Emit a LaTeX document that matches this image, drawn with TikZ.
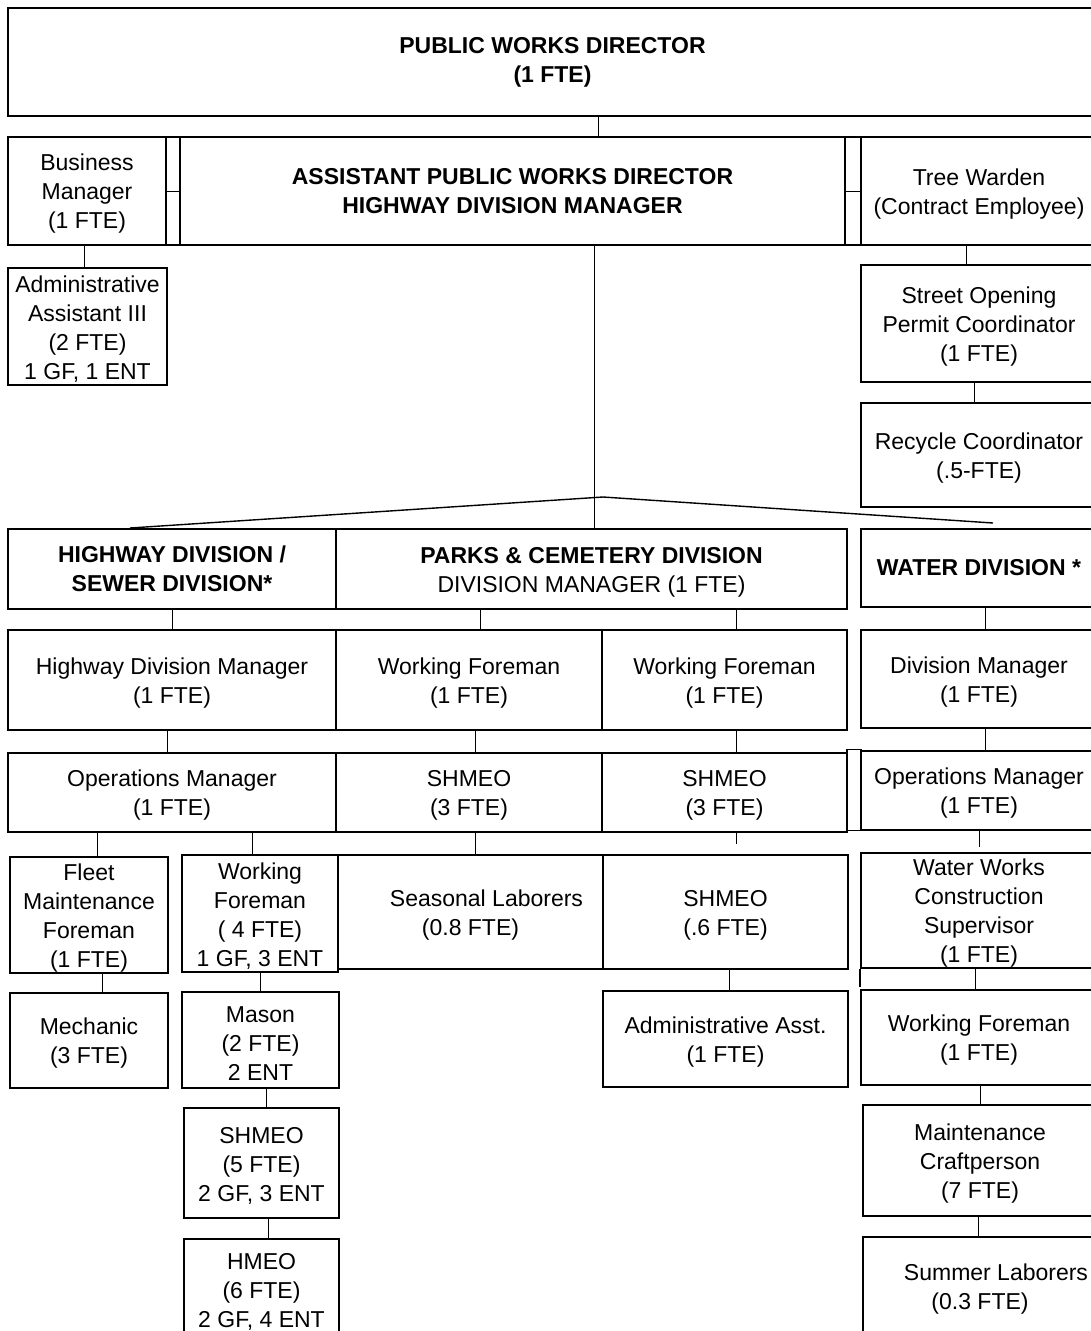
\documentclass[tikz,border=0pt]{standalone}
\usepackage{fontspec}
\setmainfont{Liberation Sans}
% raises the top of a first line so the lines sit a little lower in their box
\newcommand\tstrut{\rule{0pt}{22pt}}
\begin{document}
\begin{tikzpicture}[x=1pt,y=-1pt,
  basebox/.style={draw, line width=1.6pt, inner sep=0pt, align=center},
  box/.style={basebox, font=\fontsize{23}{29}\selectfont},
  boldbox/.style={basebox, font=\fontsize{23}{29}\selectfont\bfseries},
  bar/.style={draw, line width=1.6pt, inner sep=0pt, minimum width=14pt},
  link/.style={line width=1pt},
  roof/.style={line width=1.4pt}]
\useasboundingbox (0,0) rectangle (1091,1331);
\fill[white] (0,0) rectangle (1091,1331);
\clip (0,0) rectangle (1091,1331);

% ---- top level
\node[boldbox, minimum width=1089, minimum height=108] (top) at (552.5,62)
  {PUBLIC WORKS DIRECTOR\\(1 FTE)};

% ---- second row
\node[box, minimum width=158, minimum height=108] (bm) at (87,191)
  {\tstrut Business\\Manager\\(1 FTE)};
\node[bar, minimum height=108] (barL) at (173,191) {};
\node[boldbox, minimum width=665, minimum height=108] (asst) at (512.5,191)
  {ASSISTANT PUBLIC WORKS DIRECTOR\\HIGHWAY DIVISION MANAGER};
\node[bar, minimum width=16, minimum height=108] (barR) at (853,191) {};
\node[box, minimum width=236, minimum height=108] (tw) at (979,191)
  {\tstrut Tree Warden\\(Contract Employee)};

% ---- staff boxes
\node[box, minimum width=159, minimum height=117] (aa3) at (87.5,326.5)
  {\tstrut Administrative\\Assistant III\\(2 FTE)\\1 GF, 1 ENT};
\node[box, minimum width=236, minimum height=117] (sop) at (979,323.5)
  {\tstrut Street Opening\\Permit Coordinator\\(1 FTE)};
\node[box, minimum width=236, minimum height=104] (rc) at (979,455)
  {\tstrut Recycle Coordinator\\(.5-FTE)};

% ---- divisions
\node[boldbox, minimum width=328, minimum height=80] (hw) at (172,569)
  {HIGHWAY DIVISION /\\SEWER DIVISION*};
\node[box, minimum width=511, minimum height=80] (pk) at (591.5,569)
  {\tstrut\textbf{PARKS \& CEMETERY DIVISION}\\DIVISION MANAGER (1 FTE)};
\node[boldbox, minimum width=236, minimum height=78] (wd) at (979,568)
  {WATER DIVISION *};

% ---- third row
\node[box, minimum width=328, minimum height=100] (hdm) at (172,680)
  {\tstrut Highway Division Manager\\(1 FTE)};
\node[box, minimum width=266, minimum height=100] (wf1) at (469,680)
  {\tstrut Working Foreman\\(1 FTE)};
\node[box, minimum width=245, minimum height=100] (wf2) at (724.5,680)
  {\tstrut Working Foreman\\(1 FTE)};
\node[box, minimum width=236, minimum height=98] (dm) at (979,679)
  {\tstrut Division Manager\\(1 FTE)};

% ---- fourth row
\node[box, minimum width=328, minimum height=79] (om) at (172,792.5)
  {\tstrut Operations Manager\\(1 FTE)};
\node[box, minimum width=266, minimum height=79] (sh1) at (469,792.5)
  {\tstrut SHMEO\\(3 FTE)};
\node[box, minimum width=245, minimum height=79] (sh2) at (724.5,792.5)
  {\tstrut SHMEO\\(3 FTE)};
\node[bar, minimum height=81] (barW) at (854,790) {};
\node[box, minimum width=236, minimum height=79] (wom) at (979,790.5)
  {\tstrut Operations Manager\\(1 FTE)};

% ---- fifth row
\node[box, minimum width=158, minimum height=116] (fmf) at (89,915)
  {\tstrut Fleet\\Maintenance\\Foreman\\(1 FTE)};
\node[box, minimum width=156, minimum height=117] (wf4) at (260,913.5)
  {\tstrut Working\\Foreman\\( 4 FTE)\\1 GF, 3 ENT};
\node[box, minimum width=265, minimum height=114] (sl) at (470.5,912)
  {\tstrut\hspace*{32pt}Seasonal Laborers\\(0.8 FTE)};
\node[box, minimum width=245, minimum height=114] (sh6) at (725.5,912)
  {\tstrut SHMEO\\(.6 FTE)};
\node[box, minimum width=236, minimum height=115] (wws) at (979,910.5)
  {\tstrut Water Works\\Construction\\Supervisor\\(1 FTE)};

% ---- sixth row
\node[box, minimum width=158, minimum height=95] (mech) at (89,1040.5)
  {\tstrut Mechanic\\(3 FTE)};
\node[box, minimum width=157, minimum height=96] (mason) at (260.5,1040)
  {\tstrut Mason\\(2 FTE)\\2 ENT};
\node[box, minimum width=245, minimum height=96] (aas) at (725.5,1039)
  {\tstrut Administrative Asst.\\(1 FTE)};
\node[box, minimum width=236, minimum height=95] (wfw) at (979,1037.5)
  {\tstrut Working Foreman\\(1 FTE)};

% ---- seventh and eighth rows
\node[box, minimum width=155, minimum height=110] (shm5) at (261.5,1163)
  {\tstrut SHMEO\\(5 FTE)\\2 GF, 3 ENT};
\node[box, minimum width=234, minimum height=111] (mc) at (980,1160.5)
  {\tstrut Maintenance\\Craftperson\\(7 FTE)};
\node[box, minimum width=155, minimum height=100] (hmeo) at (261.5,1289)
  {\tstrut HMEO\\(6 FTE)\\2 GF, 4 ENT};
\node[box, minimum width=234, minimum height=98] (sum) at (980,1286)
  {\tstrut\hspace*{32pt}Summer Laborers\\(0.3 FTE)};

% ---- connectors
\draw[link] ([xshift=45.5]top.south) -- ([xshift=45.5]top.south |- asst.north);
\draw[link] (bm.east) -- (asst.west);
\draw[link] (asst.east) -- (tw.west);
\draw[link] ([xshift=-3]bm.south) -- ([xshift=-3]bm.south |- aa3.north);
\draw[link] ([xshift=-13]tw.south) -- ([xshift=-13]tw.south |- sop.north);
\draw[link] ([xshift=-5]sop.south) -- ([xshift=-5]sop.south |- rc.north);
\draw[link] ([xshift=81.5]asst.south) -- ([xshift=81.5]asst.south |- pk.north);

\coordinate (apex) at (603,497);
\coordinate (roofL) at (130,528);
\coordinate (roofR) at (993,523);
\draw[roof] (roofL) -- (apex) -- (roofR);

\draw[link] (hw.south) -- (hw.south |- hdm.north);
\draw[link] ([xshift=11]wf1.north |- pk.south) -- ([xshift=11]wf1.north);
\draw[link] ([xshift=11.5]wf2.north |- pk.south) -- ([xshift=11.5]wf2.north);
\draw[link] ([xshift=6]wd.south) -- ([xshift=6]wd.south |- dm.north);

\draw[link] ([xshift=-5]hdm.south) -- ([xshift=-5]hdm.south |- om.north);
\draw[link] ([xshift=6]wf1.south) -- ([xshift=6]wf1.south |- sh1.north);
\draw[link] ([xshift=11.5]wf2.south) -- ([xshift=11.5]wf2.south |- sh2.north);
\draw[link] ([xshift=6]dm.south) -- ([xshift=6]dm.south |- wom.north);

\coordinate (sh6top) at ([yshift=10]sh6.north);
\coordinate (wwstop) at ([yshift=5]wws.north);
\draw[link] ([xshift=8]fmf.north |- om.south) -- ([xshift=8]fmf.north);
\draw[link] ([xshift=-8]wf4.north |- om.south) -- ([xshift=-8]wf4.north);
\draw[link] ([xshift=4.5]sl.north |- sh1.south) -- ([xshift=4.5]sl.north);
\draw[link] ([xshift=11.5]sh2.south) -- ([xshift=11.5]sh2.south |- sh6top);
\draw[link] (wom.south) -- (wom.south |- wwstop);

\draw[link] ([xshift=13]fmf.south) -- ([xshift=13]fmf.south |- mech.north);
\draw[link] (wf4.south) -- (wf4.south |- mason.north);
\draw[link] ([xshift=3.5]sh6.south) -- ([xshift=3.5]sh6.south |- aas.north);
\draw[link] ([xshift=-4]wws.south) -- ([xshift=-4]wws.south |- wfw.north);
\draw[line width=1.6pt] (wws.south west) -- ++(0,18);

\draw[link] ([xshift=5.5]mason.south) -- ([xshift=5.5]mason.south |- shm5.north);
\draw[link] ([xshift=1]wfw.south) -- ([xshift=1]wfw.south |- mc.north);
\draw[link] ([xshift=6.5]shm5.south) -- ([xshift=6.5]shm5.south |- hmeo.north);
\draw[link] ([xshift=-2]mc.south) -- ([xshift=-2]mc.south |- sum.north);
\end{tikzpicture}
\end{document}
